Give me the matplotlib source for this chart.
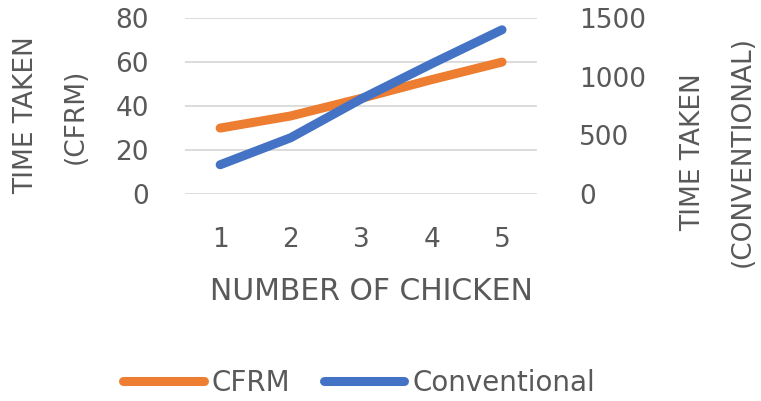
import matplotlib
matplotlib.use('Agg')
import matplotlib.pyplot as plt
import matplotlib.patheffects as pe

plt.rcParams['font.family'] = ['DejaVu Sans']

chickens = [1, 2, 3, 4, 5]
cfrm = [30, 35.5, 43.5, 52, 60]
conventional = [250, 480, 810, 1110, 1400]

orange = '#ED7D31'
blue = '#4472C4'
grey = '#595959'

fig = plt.figure(figsize=(7.61, 4.01), dpi=100)
ax1 = fig.add_axes([0.243, 0.516, 0.463, 0.439])
ax2 = ax1.twinx()

shadow = [pe.SimplePatchShadow(offset=(1.5, -2.5), shadow_rgbFace='black', alpha=0.25), pe.Normal()]

l1, = ax1.plot(chickens, cfrm, color=orange, lw=6.5, solid_capstyle='round',
               solid_joinstyle='round', label='CFRM', path_effects=shadow)
l2, = ax2.plot(chickens, conventional, color=blue, lw=6.5, solid_capstyle='round',
               solid_joinstyle='round', label='Conventional', path_effects=shadow)
ax2.set_zorder(ax1.get_zorder() + 1)

ax1.set_xlim(0.5, 5.5)
ax1.set_ylim(0, 80)
ax2.set_ylim(0, 1500)
ax1.set_yticks([0, 20, 40, 60, 80])
ax2.set_yticks([0, 500, 1000, 1500])
ax1.set_xticks(chickens)

ax1.grid(axis='y', color='#D9D9D9', lw=1.3)
ax1.set_axisbelow(True)
for a in (ax1, ax2):
    for s in a.spines.values():
        s.set_visible(False)
    a.tick_params(length=0, labelsize=19, colors=grey)
ax1.tick_params(axis='y', pad=26)
ax2.tick_params(axis='y', pad=30)
ax1.tick_params(axis='x', pad=24)

ax1.set_xlabel('NUMBER OF CHICKEN', fontsize=21.5, color=grey)
ax1.xaxis.set_label_coords(0.53, -0.47)

# axis titles, one text per line so the line gap matches
fig.text(0.034, 0.713, 'TIME TAKEN', rotation=90, ha='center', va='center',
         fontsize=19, color=grey)
fig.text(0.100, 0.71, '(CFRM)', rotation=90, ha='center', va='center',
         fontsize=19, color=grey)
fig.text(0.911, 0.621, 'TIME TAKEN', rotation=90, ha='center', va='center',
         fontsize=19, color=grey)
fig.text(0.976, 0.623, '(CONVENTIONAL)', rotation=90, ha='center', va='center',
         fontsize=19, color=grey)

fig.legend(handles=[l1, l2], loc='center', bbox_to_anchor=(0.472, 0.045), ncol=2,
           frameon=False, fontsize=20, labelcolor=grey, handlelength=2.9,
           handletextpad=0.3, columnspacing=1.2)

fig.savefig('out.png', dpi=100)
